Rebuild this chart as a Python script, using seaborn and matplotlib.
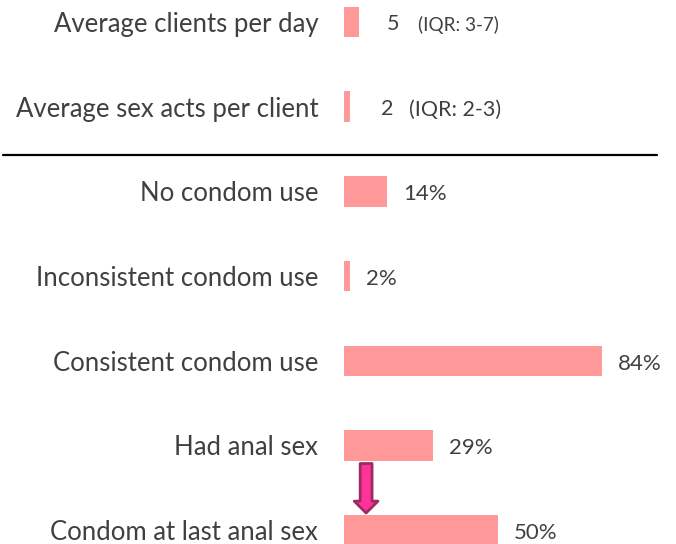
import matplotlib
matplotlib.use("Agg")
import matplotlib.pyplot as plt
import seaborn as sns
import pandas as pd
from matplotlib.patches import FancyArrowPatch
from matplotlib.lines import Line2D

categories = ["Average clients per day", "Average sex acts per client",
              "No condom use", "Inconsistent condom use", "Consistent condom use",
              "Had anal sex", "Condom at last anal sex"]
values = [5, 2, 14, 2, 84, 29, 50]
value_labels = ["5", "2", "14%", "2%", "84%", "29%", "50%"]
iqr_labels = ["(IQR: 3-7)", "(IQR: 2-3)", None, None, None, None, None]

sns.set_theme(style="white")
plt.rcParams['font.family'] = ['Lato', 'DejaVu Sans']

df = pd.DataFrame({"cat": categories, "val": values})

fig = plt.figure(figsize=(6.76, 5.44), dpi=100)
ax = fig.add_axes([344/676, 0, 1 - 344/676, 1])
sns.barplot(data=df, y="cat", x="val", orient="h", color="#FF9999",
            saturation=1, width=0.36, ax=ax, edgecolor="none")

ax.set_xlim(0, 108.1)
ax.set_ylim(6.163, -0.26)
for s in ax.spines.values():
    s.set_visible(False)
ax.set_xticks([])
ax.set_xlabel("")
ax.set_ylabel("")
ax.tick_params(axis="y", length=0, pad=18.5, labelsize=18.5, labelcolor="#404040")

txt = "#404040"
for i, (v, lab, iqr) in enumerate(zip(values, value_labels, iqr_labels)):
    if iqr is None:
        ax.annotate(lab, (v, i), xytext=(11.5, -2), textcoords="offset points",
                    va="center", ha="left", fontsize=16, color=txt)
    else:
        off = 19.5 if i == 0 else 22.5
        ax.annotate(lab, (v, i), xytext=(off, -1.5), textcoords="offset points",
                    va="center", ha="left", fontsize=15.5, color=txt)
        off2 = off + (23 if i == 0 else 20)
        ax.annotate(iqr, (v, i), xytext=(off2, -2), textcoords="offset points",
                    va="center", ha="left", fontsize=13.6 if i == 0 else 15.5,
                    color=txt)

arrow = FancyArrowPatch((7.2, 5.18), (7.2, 5.83),
                        arrowstyle="simple,head_width=1.9,head_length=0.95,tail_width=0.95",
                        mutation_scale=9, facecolor="#FF3399", edgecolor="#9B2C62",
                        linewidth=2.0, clip_on=False)
ax.add_patch(arrow)

fig.add_artist(Line2D([3/676, 657/676], [1 - 155/544, 1 - 155/544],
                      color="black", linewidth=1.6))

fig.savefig("out.png", dpi=100)
